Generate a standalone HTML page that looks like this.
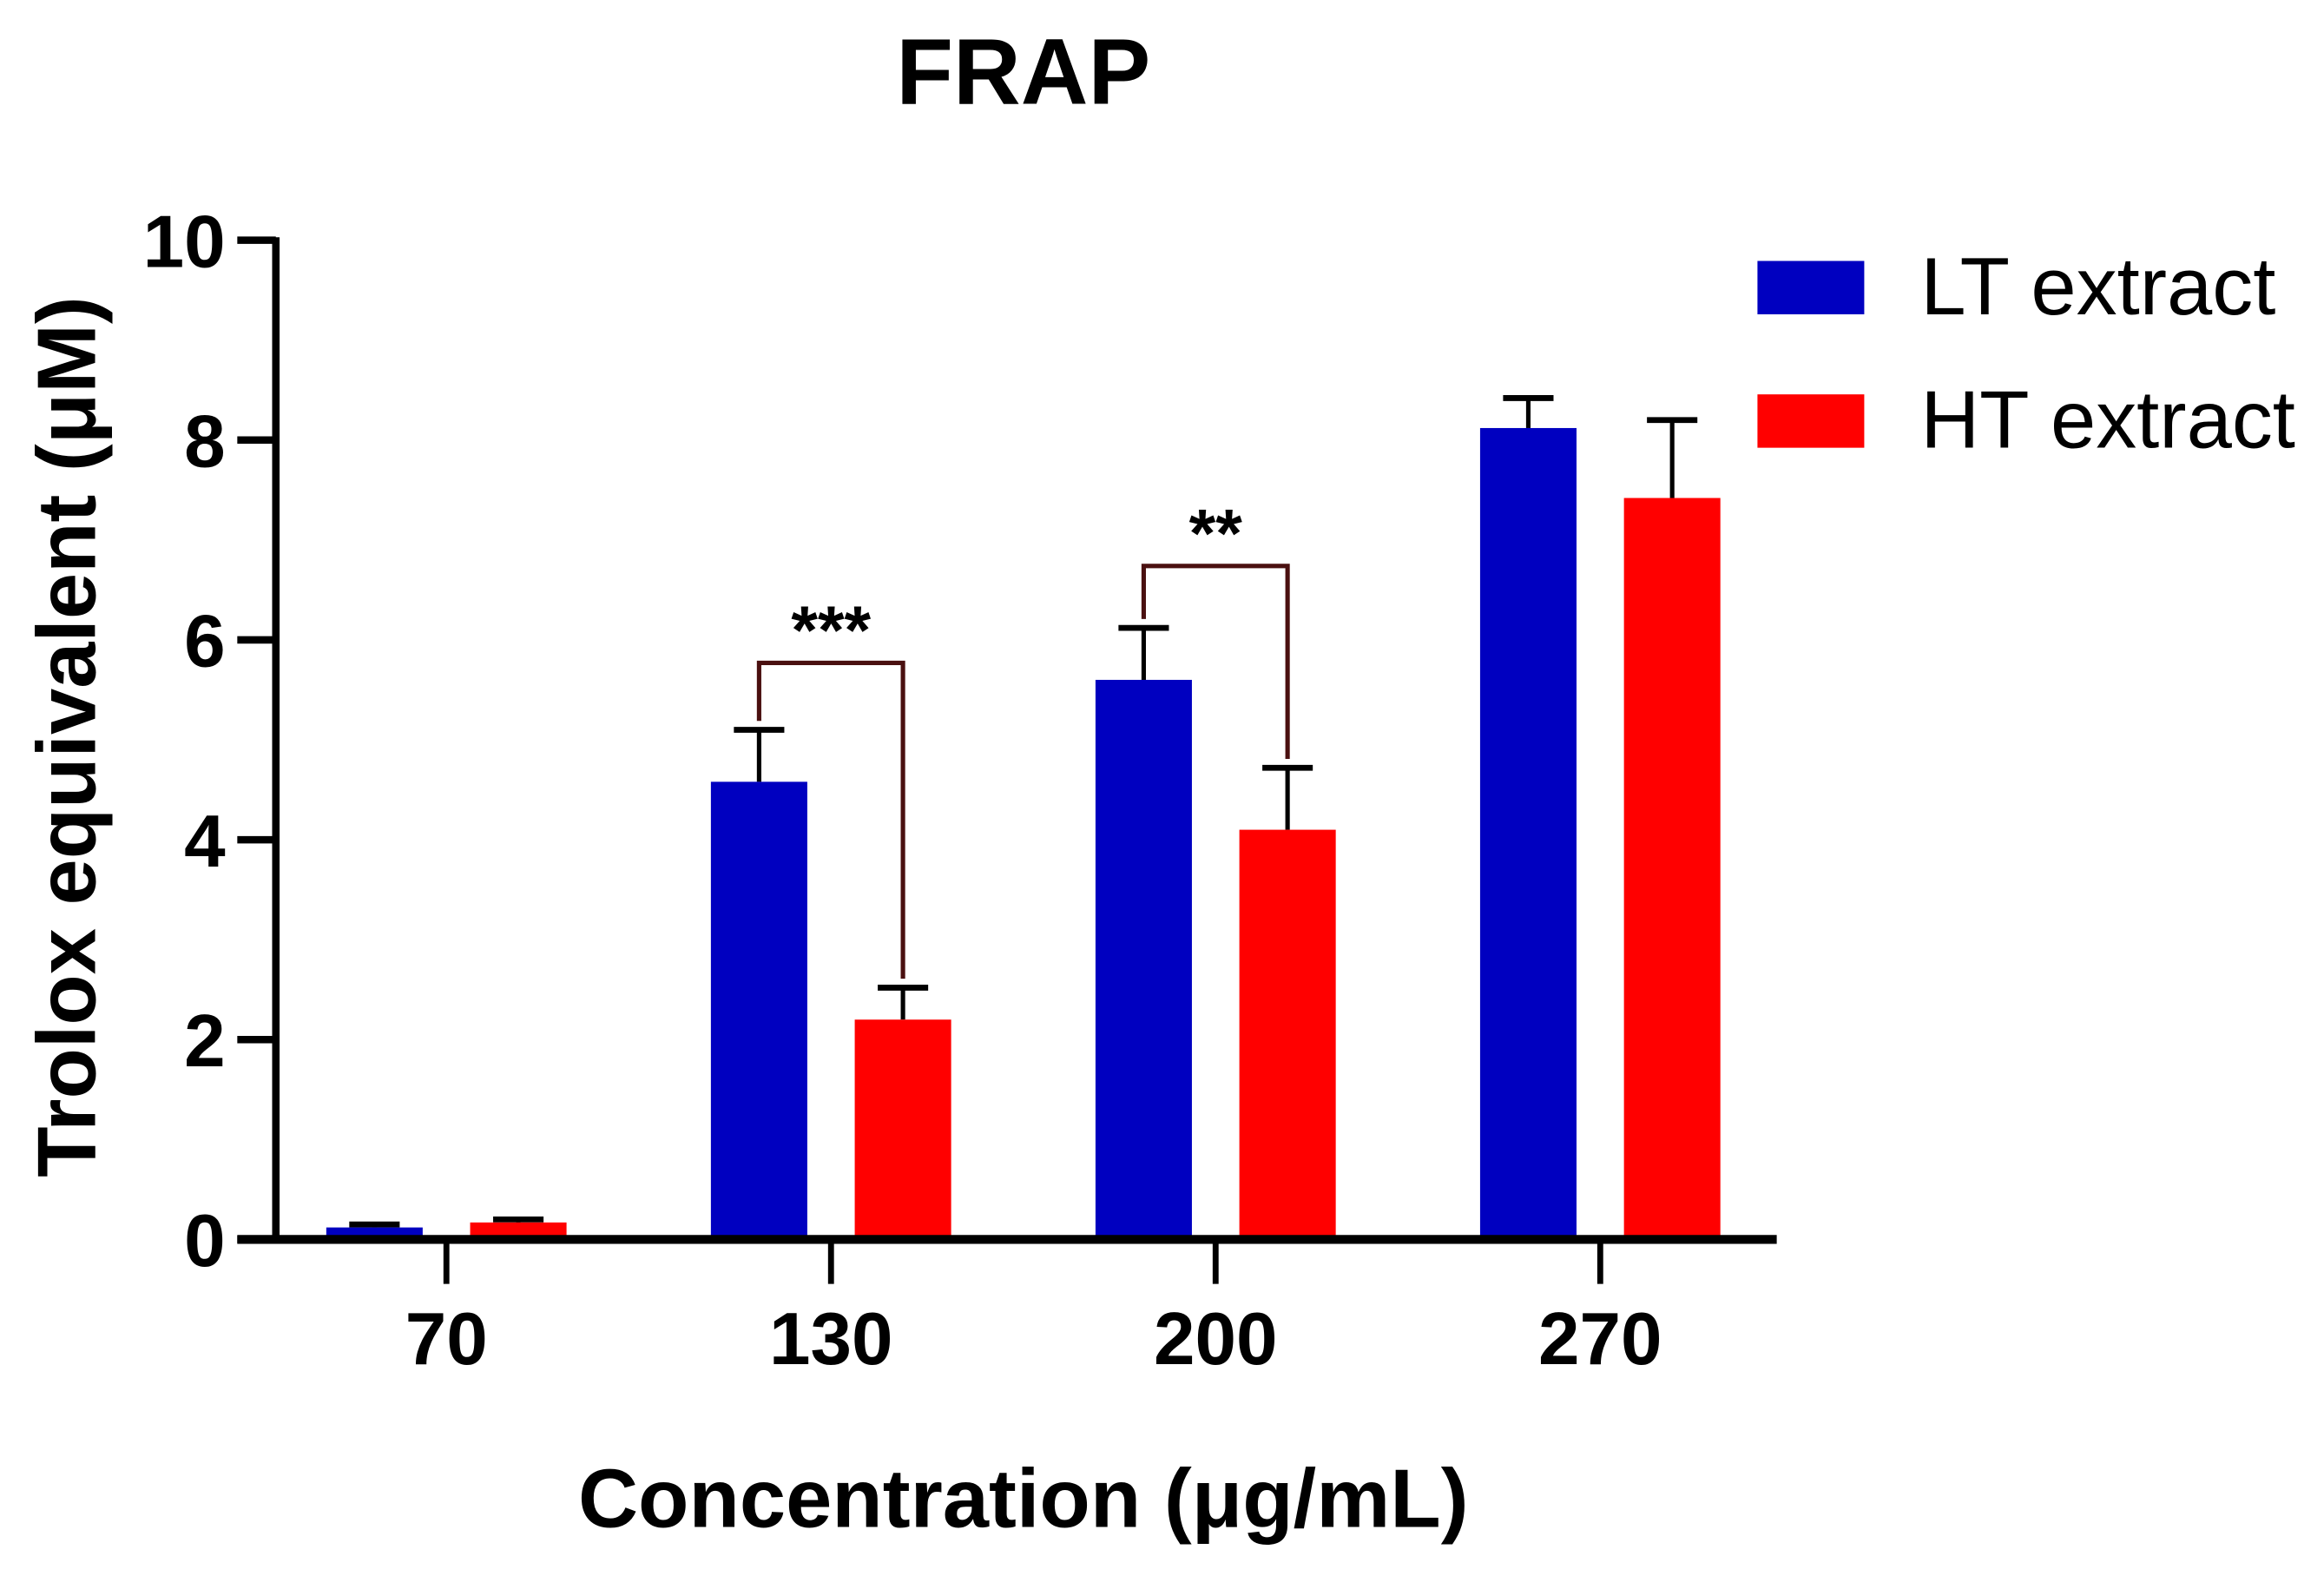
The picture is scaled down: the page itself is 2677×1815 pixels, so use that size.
<!DOCTYPE html>
<html><head><meta charset="utf-8"><style>
html,body{margin:0;padding:0;background:#fff;}
svg{display:block;}
text{font-family:"Liberation Sans",Arial,sans-serif;fill:#000;}
</style></head><body>
<svg id="chart" width="2677" height="1815" viewBox="0 0 1567 1063" preserveAspectRatio="none" xmlns="http://www.w3.org/2000/svg">
<rect width="1567" height="1063" fill="#fff"/>
<text x="690" y="70" text-anchor="middle" font-size="63" font-weight="bold">FRAP</text>
<g id="plot"></g>
<text x="690" y="1030" text-anchor="middle" font-size="56" font-weight="bold">Concentration (μg/mL)</text>
<text transform="translate(64,497) rotate(-90)" text-anchor="middle" font-size="56" font-weight="bold">Trolox equivalent (μM)</text>
<rect x="1185" y="176" width="72" height="36" fill="#0000c0"/>
<text x="1295" y="212" font-size="55">LT extract</text>
<rect x="1185" y="266" width="72" height="36" fill="#ff0000"/>
<text x="1295" y="302" font-size="55">HT extract</text>
</svg>
<script>
const categories = ["70","130","200","270"];
const ltValues = [0.12, 4.58, 5.6, 8.12];
const ltErrors = [0.03, 0.52, 0.52, 0.3];
const htValues = [0.17, 2.2, 4.1, 7.42];
const htErrors = [0.03, 0.32, 0.62, 0.78];
const yTicks = [0, 2, 4, 6, 8, 10];
const sigLabels = ["", "***", "**", ""];
const sigLevels = [0, 5.77, 6.74, 0];

const NS = "http://www.w3.org/2000/svg";
const g = document.getElementById("plot");
const x0 = 186, yBase = 836, pxPerUnit = 67.4;
const catX0 = 301, catStep = 259.33, barOff = 48.5, barW = 65;
function yScale(v){ return yBase - v * pxPerUnit; }
function xScale(i){ return catX0 + i * catStep; }
function mk(tag, attrs){ const e = document.createElementNS(NS, tag); for (const k in attrs) e.setAttribute(k, attrs[k]); g.appendChild(e); return e; }

categories.forEach((c, i) => {
  [[ltValues, ltErrors, -barOff, "#0000c0", "lt"], [htValues, htErrors, barOff, "#ff0000", "ht"]].forEach(([vals, errs, off, col, nm]) => {
    const cx = xScale(i) + off;
    const top = yScale(vals[i]), et = yScale(vals[i] + errs[i]);
    const ln = mk("line", {x1: cx, x2: cx, y1: top, y2: et, stroke: "#000", "stroke-width": 3});
    
    
    const cap = mk("line", {x1: cx - 17, x2: cx + 17, y1: et, y2: et, stroke: "#000", "stroke-width": 4});
    
    
    const r = mk("rect", {x: cx - barW / 2, y: top, width: barW, height: yBase - top, fill: col});
    
    
  });
  const tk = mk("line", {x1: xScale(i), x2: xScale(i), y1: yBase, y2: yBase + 30, stroke: "#000", "stroke-width": 4});
  
  
  const t = mk("text", {x: xScale(i), y: 920, "text-anchor": "middle", "font-size": 50, "font-weight": "bold"});
  t.textContent = c;
  
  
  if (sigLabels[i]) {
    const lx = xScale(i) - barOff, rx = xScale(i) + barOff;
    const ly = yScale(ltValues[i] + ltErrors[i]) - 6, ry = yScale(htValues[i] + htErrors[i]) - 6, by = yScale(sigLevels[i]);
    const p = mk("path", {d: `M${lx},${ly} V${by} H${rx} V${ry}`, fill: "none", stroke: "#4a1010", "stroke-width": 3});
    
    
    const s = mk("text", {x: xScale(i), y: by - 6, "text-anchor": "middle", "font-size": 46, "font-weight": "bold"});
    s.textContent = sigLabels[i];
    
    
  }
});
yTicks.forEach(v => {
  const y = yScale(v);
  const tk = mk("line", {x1: 160, x2: x0, y1: y, y2: y, stroke: "#000", "stroke-width": 5});
  
  
  const t = mk("text", {x: 152, y: y + 18, "text-anchor": "end", "font-size": 50, "font-weight": "bold"});
  t.textContent = v;
  
  
});
const ya = mk("line", {x1: x0, x2: x0, y1: yScale(10) - 2, y2: yBase + 3, stroke: "#000", "stroke-width": 5});


const xa = mk("line", {x1: 160, x2: 1198, y1: yBase, y2: yBase, stroke: "#000", "stroke-width": 6});


</script>
</body></html>
